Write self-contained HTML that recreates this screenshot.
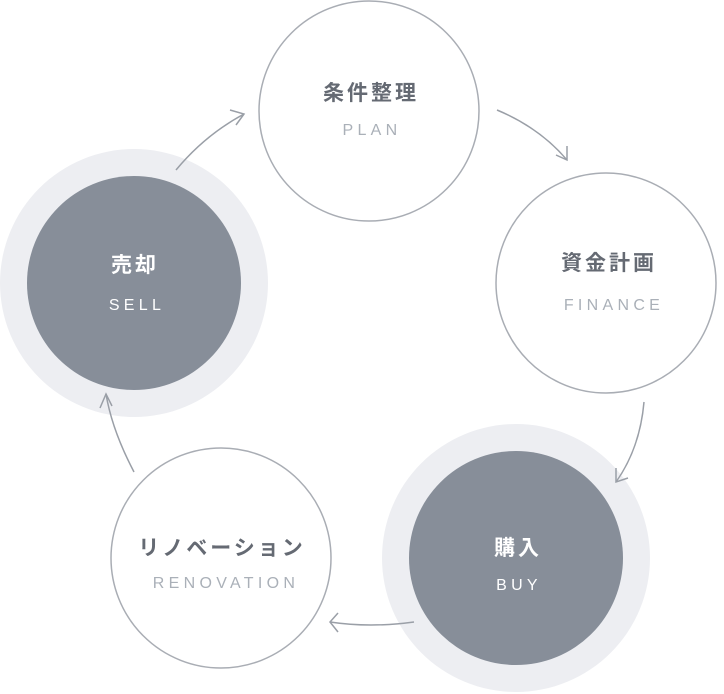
<!DOCTYPE html>
<html><head><meta charset="utf-8"><style>
html,body{margin:0;padding:0;background:#fff;}
svg{display:block;}
.t{font-family:"Liberation Sans","Noto Sans CJK JP",sans-serif;font-size:21px;font-weight:bold;letter-spacing:3px;text-anchor:middle;}
.s{font-family:"Liberation Sans",sans-serif;font-size:16px;letter-spacing:4.3px;text-anchor:middle;}
</style></head><body>
<svg width="724" height="694" viewBox="0 0 724 694" xmlns="http://www.w3.org/2000/svg">
<g fill="none" stroke="#a9adb4" stroke-width="1.5">
<circle cx="369" cy="111" r="110" fill="#fff"/>
<circle cx="606" cy="283" r="110" fill="#fff"/>
<circle cx="221" cy="558" r="110" fill="#fff"/>
</g>
<circle cx="516" cy="558" r="134" fill="#edeef2"/>
<circle cx="516" cy="558" r="107" fill="#878e99"/>
<circle cx="134" cy="283" r="134" fill="#edeef2"/>
<circle cx="134" cy="283" r="107" fill="#878e99"/>
<g fill="none" stroke="#9a9fa7" stroke-width="1.5">
<path d="M497 110 Q540 128 567 160"/><path d="M567 146 L567 160 L556 155"/>
<path d="M644 402 Q640 448 616 482"/><path d="M616 468 L616 482 L628 478"/>
<path d="M414 622 Q370 628 330 622"/><path d="M338 613 L330 622 L338 632"/>
<path d="M134 472 Q112 430 106 394"/><path d="M100 408 L106 394 L112 406"/>
<path d="M176 170 Q205 135 244 114"/><path d="M230 110 L244 114 L236 125"/>
</g>
<text class="t" x="371" y="100" fill="#656a73">条件整理</text>
<text class="s" x="372" y="135" fill="#aab0b8">PLAN</text>
<text class="t" x="609" y="270" fill="#656a73">資金計画</text>
<text class="s" x="614" y="310" fill="#aab0b8">FINANCE</text>
<text class="t" x="518" y="555" fill="#fff">購入</text>
<text class="s" x="519" y="590" fill="#fff">BUY</text>
<text class="t" x="222" y="555" fill="#656a73">リノベーション</text>
<text class="s" x="226" y="588" fill="#aab0b8">RENOVATION</text>
<text class="t" x="135" y="272" fill="#fff">売却</text>
<text class="s" x="137" y="310" fill="#fff">SELL</text>
</svg>
</body></html>
